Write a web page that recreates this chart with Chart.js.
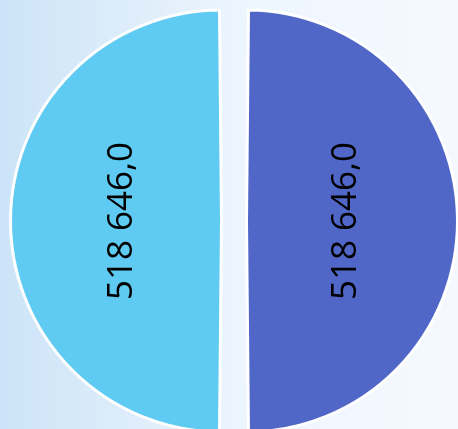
<!DOCTYPE html>
<html>
<head>
<meta charset="utf-8">
<script src="https://cdn.jsdelivr.net/npm/chart.js@4/dist/chart.umd.min.js"></script>
<style>
  html, body { margin: 0; padding: 0; }
  body {
    width: 458px; height: 429px; overflow: hidden;
    background: linear-gradient(90deg, #cce4f8 0%, #e2effb 35%, #eef6fe 55%, #f5f9ff 100%);
  }
  #wrap { width: 458px; height: 429px; position: relative; }
</style>
</head>
<body>
<div id="wrap"><canvas id="pieChart"></canvas></div>
<script>
// Chart data
const categories = ['Series 2', 'Series 1'];
const values = [518646.0, 518646.0];
const sliceColors = ['#5067c8', '#5fcbf2'];

// Format like "518 646,0"
function formatValue(v) {
    const parts = v.toFixed(1).split('.');
    const intPart = parts[0].replace(/\B(?=(\d{3})+(?!\d))/g, ' ');
    return intPart + ',' + parts[1];
}

// Draw rotated value labels in the middle of each (exploded) slice
const sliceLabels = {
    id: 'sliceLabels',
    afterDatasetsDraw(chart) {
        const ctx = chart.ctx;
        const meta = chart.getDatasetMeta(0);
        meta.data.forEach((arc, i) => {
            // chart.js moves an exploded arc by offset/4 and grows it by the same
            const shift = (arc.options.offset || 0) / 4;
            const mid = (arc.startAngle + arc.endAngle) / 2;
            const dist = (arc.outerRadius + 2 * shift) / 2;
            const x = arc.x + Math.cos(mid) * dist;
            const y = arc.y + Math.sin(mid) * dist;
            ctx.save();
            ctx.translate(x, y);
            ctx.rotate(-Math.PI / 2);
            ctx.font = '35px "Open Sans", "Noto Sans", sans-serif';
            ctx.fillStyle = '#000000';
            ctx.textAlign = 'center';
            ctx.textBaseline = 'middle';
            ctx.fillText(formatValue(values[i]), 0, 0);
            ctx.restore();
        });
    }
};

document.addEventListener('DOMContentLoaded', function() {
    const ctx = document.getElementById('pieChart');

    new Chart(ctx, {
        type: 'pie',
        data: {
            labels: categories,
            datasets: [{
                data: values,
                backgroundColor: sliceColors,
                borderColor: '#ffffff',
                borderWidth: 3,
                offset: 50,
                clip: false
            }]
        },
        options: {
            responsive: true,
            maintainAspectRatio: false,
            animation: false,
            radius: 198.5,
            layout: {
                padding: { left: 10, right: 0, top: 13, bottom: 0 }
            },
            plugins: {
                legend: { display: false },
                tooltip: { enabled: false }
            }
        },
        plugins: [sliceLabels]
    });
});
</script>
</body>
</html>
